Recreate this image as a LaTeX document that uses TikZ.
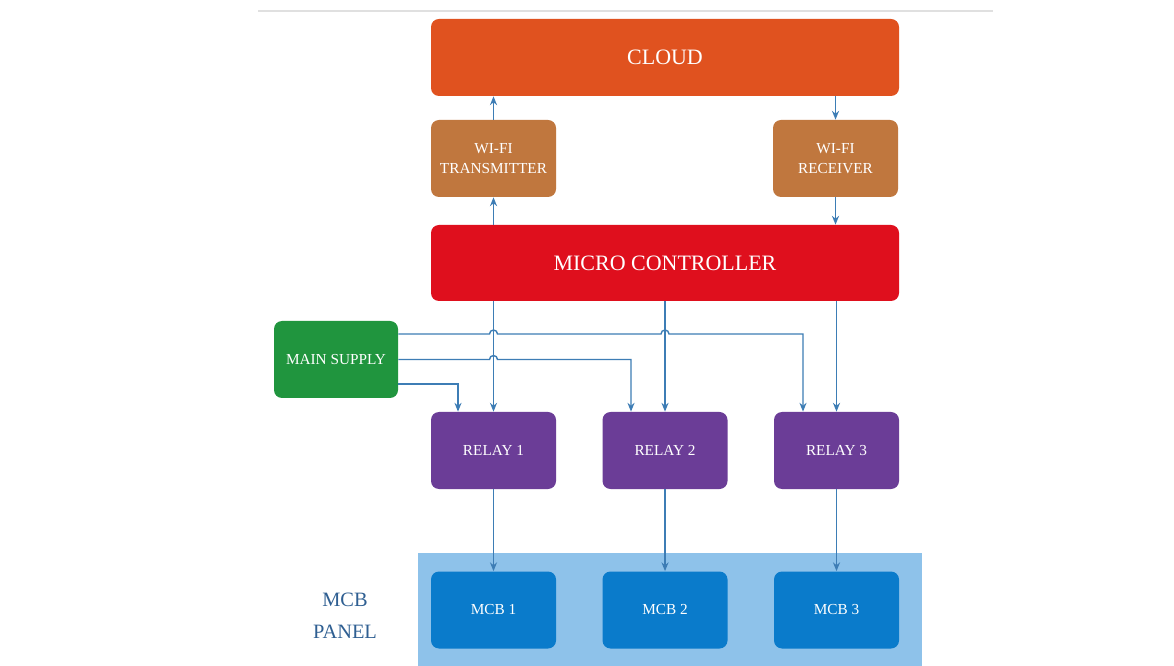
\documentclass[tikz,border=0pt]{standalone}
\usepackage{fontspec}
\setmainfont{Liberation Serif}
\usetikzlibrary{arrows.meta,calc}

\definecolor{cloudorange}{HTML}{E0521F}
\definecolor{wifibrown}{HTML}{C0773E}
\definecolor{mcred}{HTML}{DF0F1D}
\definecolor{supplygreen}{HTML}{20953E}
\definecolor{relaypurple}{HTML}{6B3D97}
\definecolor{mcbblue}{HTML}{0A7BCB}
\definecolor{panelblue}{HTML}{8EC2EA}
\definecolor{wireblue}{HTML}{3D7DB5}
\definecolor{labelblue}{HTML}{2F5F92}

\begin{document}
\begin{tikzpicture}[
    block/.style={rectangle, rounded corners=0.16cm, text=white, align=center,
        minimum width=2.5cm, minimum height=1.54cm, inner sep=2pt,
        font=\fontsize{8.7}{11.8}\selectfont},
    wide/.style={block, minimum width=9.36cm, font=\fontsize{12.5}{14}\selectfont},
    wire/.style={draw=wireblue, line width=0.8pt, -{Stealth[length=5pt, width=4pt]}}
]
    \useasboundingbox (0,0) rectangle (23.48,-13.32);
    \fill[white] (0,0) rectangle (23.48,-13.32);
    \draw[black!12, line width=1pt] (5.16,-0.22) -- (19.86,-0.22);

    % panel behind the breakers
    \fill[panelblue] (8.36,-11.06) rectangle (18.44,-13.32);
    \node[text=labelblue, align=center, font=\fontsize{11.6}{18}\selectfont] (PNL) at (6.90,-12.32) {MCB\\PANEL};

    \node[wide, fill=cloudorange] (CL) at (13.30,-1.15) {CLOUD};
    \node[block, fill=wifibrown] (TX) at (9.87,-3.17) {WI-FI\\TRANSMITTER};
    \node[block, fill=wifibrown] (RX) at (16.71,-3.17) {WI-FI\\RECEIVER};
    \node[wide, fill=mcred, minimum height=1.52cm] (MC) at (13.30,-5.26) {MICRO CONTROLLER};

    \node[block, fill=supplygreen, minimum width=2.48cm] (MS) at (6.72,-7.19) {MAIN SUPPLY};

    \node[block, fill=relaypurple] (R1) at (9.87,-9.01) {RELAY 1};
    \node[block, fill=relaypurple] (R2) at (13.30,-9.01) {RELAY 2};
    \node[block, fill=relaypurple] (R3) at (16.73,-9.01) {RELAY 3};

    \node[block, fill=mcbblue] (M1) at (9.87,-12.20) {MCB 1};
    \node[block, fill=mcbblue] (M2) at (13.30,-12.20) {MCB 2};
    \node[block, fill=mcbblue] (M3) at (16.73,-12.20) {MCB 3};

    \draw[wire] (MC.north -| TX) -- (TX.south);
    \draw[wire] (TX.north) -- (CL.south -| TX);
    \draw[wire] (CL.south -| RX) -- (RX.north);
    \draw[wire] (RX.south) -- (MC.north -| RX);

    \draw[wire] (MC.south -| R1) -- (R1.north);
    \draw[wire] (MC.south -| R2) -- (R2.north);
    \draw[wire] (MC.south -| R3) -- (R3.north);

    % supply feeds, hopping over the controller lines
    \draw[wire] ($(MS.east)+(0,0.51)$) -- ($(MS.east -| R1)+(-0.08,0.51)$)
        arc[start angle=180, end angle=0, radius=0.08cm]
        -- ($(MS.east -| R2)+(-0.08,0.51)$)
        arc[start angle=180, end angle=0, radius=0.08cm]
        -| ($(R3.north)+(-0.67,0)$);
    \draw[wire] (MS.east) -- ($(MS.east -| R1)+(-0.08,0)$)
        arc[start angle=180, end angle=0, radius=0.08cm]
        -| ($(R2.north)+(-0.68,0)$);
    \draw[wire] ($(MS.east)+(0,-0.49)$) -| ($(R1.north)+(-0.71,0)$);

    \draw[wire] (R1.south) -- (M1.north);
    \draw[wire] (R2.south) -- (M2.north);
    \draw[wire] (R3.south) -- (M3.north);
\end{tikzpicture}
\end{document}
